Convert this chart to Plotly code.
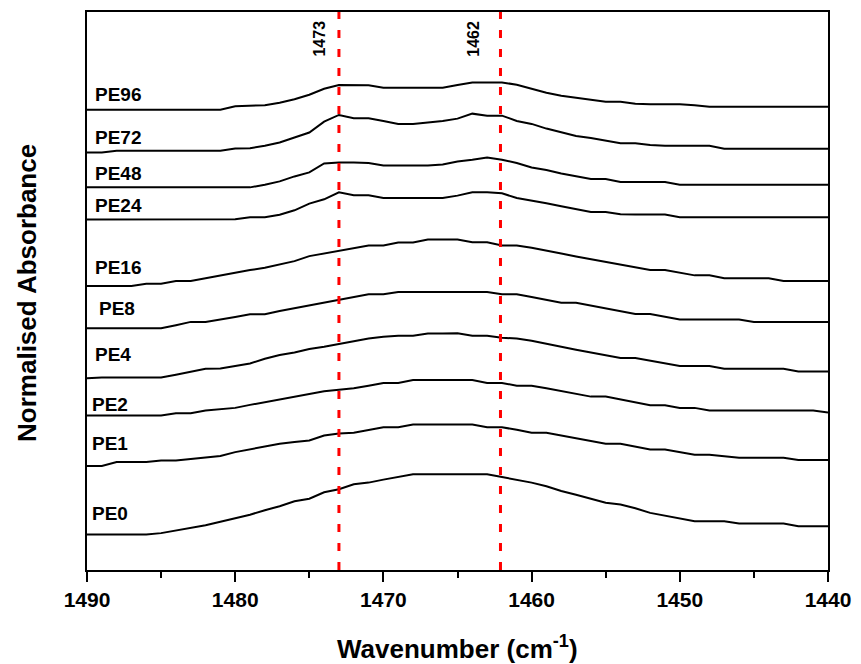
import plotly.graph_objects as go

# Wavenumber grid (cm^-1), 1490 -> 1440
wavenumber = [1490 - i for i in range(51)]

sample_names = ["PE96", "PE72", "PE48", "PE24", "PE16", "PE8", "PE4", "PE2", "PE1", "PE0"]

# Stacked (offset) normalised absorbance
pe96 = [4.62]*10 + [4.655, 4.66, 4.665, 4.69, 4.725, 4.77, 4.83, 4.867, 4.867, 4.865,
        4.84, 4.84, 4.84, 4.84, 4.84, 4.867, 4.893, 4.893, 4.893, 4.87,
        4.83, 4.79, 4.76, 4.74, 4.72, 4.70, 4.70, 4.68, 4.673, 4.673,
        4.673, 4.665, 4.65] + [4.65]*8
pe72 = [4.19, 4.19] + [4.207]*8 + [4.23, 4.233, 4.257, 4.29, 4.34, 4.39, 4.50, 4.567, 4.533, 4.533,
        4.507, 4.477, 4.477, 4.49, 4.507, 4.53, 4.58, 4.56, 4.56, 4.507,
        4.477, 4.43, 4.39, 4.355, 4.335, 4.31, 4.283, 4.283, 4.265] + [4.257]*4 + [4.227]*8
pe48 = [3.84]*12 + [3.867, 3.90, 3.95, 3.99, 4.08, 4.09, 4.09, 4.085, 4.06, 4.06,
        4.06, 4.06, 4.07, 4.10, 4.117, 4.14, 4.117, 4.085, 4.04, 4.015,
        3.98, 3.95, 3.923, 3.923, 3.893, 3.893, 3.893, 3.893] + [3.867]*11
pe24 = [3.517]*10 + [3.52, 3.54, 3.54, 3.565, 3.61, 3.677, 3.72, 3.79, 3.76, 3.76,
        3.733, 3.733, 3.733, 3.733, 3.733, 3.757, 3.79, 3.79, 3.78, 3.733,
        3.71, 3.68, 3.65, 3.623, 3.593, 3.593, 3.57, 3.567, 3.567, 3.567] + [3.54]*11
pe16 = [2.85]*4 + [2.873, 2.873, 2.90, 2.90, 2.927, 2.957, 2.983, 3.01, 3.033, 3.067,
        3.10, 3.15, 3.177, 3.207, 3.233, 3.257, 3.257, 3.287, 3.287, 3.317,
        3.317, 3.317, 3.29, 3.29, 3.257, 3.257, 3.233, 3.207, 3.177, 3.147,
        3.12, 3.093, 3.067, 3.04, 3.01, 3.01, 2.983, 2.957, 2.957, 2.927,
        2.927, 2.927, 2.927, 2.90, 2.90, 2.90] + [2.90]
pe8 = [2.427]*6 + [2.457, 2.49, 2.49, 2.513, 2.54, 2.567, 2.567, 2.60, 2.627, 2.657,
       2.683, 2.71, 2.74, 2.767, 2.767] + [2.79]*7 + [2.767, 2.767, 2.74, 2.71, 2.683,
       2.683, 2.653, 2.627, 2.60, 2.57, 2.57, 2.54, 2.513, 2.513, 2.513,
       2.513, 2.513] + [2.49]*6
pe4 = [1.925] + [1.933]*5 + [1.96, 1.99, 2.02, 2.023, 2.05, 2.073, 2.12, 2.157, 2.183, 2.217,
      2.24, 2.27, 2.30, 2.323, 2.34, 2.35, 2.35, 2.373, 2.373, 2.375,
      2.35, 2.35, 2.33, 2.323, 2.30, 2.273, 2.24, 2.21, 2.18, 2.153,
      2.127, 2.127, 2.10, 2.073, 2.047, 2.047, 2.047] + [2.02]*5 + [1.993]*3
pe2 = [1.55]*6 + [1.573, 1.573, 1.60, 1.615, 1.627, 1.657, 1.683, 1.71, 1.74, 1.767,
      1.793, 1.81, 1.823, 1.85, 1.877, 1.877, 1.907] + [1.907]*4 + [1.877, 1.877, 1.85,
      1.85, 1.823, 1.793, 1.767, 1.74, 1.74, 1.71, 1.68, 1.653, 1.653, 1.627,
      1.627] + [1.60]*8 + [1.58]
pe1 = [1.043, 1.043] + [1.083]*3 + [1.10, 1.10, 1.115, 1.127, 1.145, 1.183, 1.21, 1.24, 1.267,
      1.285, 1.30, 1.35, 1.37, 1.377, 1.407, 1.433, 1.433, 1.46] + [1.46]*4 + [1.433,
      1.433, 1.407, 1.377, 1.377, 1.35, 1.323, 1.293, 1.267, 1.267, 1.24, 1.21,
      1.21, 1.183, 1.157, 1.157, 1.145] + [1.127]*4 + [1.103]*3
pe0 = [0.357]*5 + [0.37, 0.395, 0.42, 0.45, 0.485, 0.52, 0.555, 0.60, 0.64, 0.69,
      0.715, 0.78, 0.81, 0.86, 0.877, 0.907, 0.933, 0.96] + [0.96]*5 + [0.933, 0.907,
      0.877, 0.84, 0.793, 0.755, 0.713, 0.675, 0.657, 0.62, 0.573, 0.543, 0.517,
      0.49, 0.49, 0.49] + [0.467]*4 + [0.44]*3

series = [pe96, pe72, pe48, pe24, pe16, pe8, pe4, pe2, pe1, pe0]

# label anchor values (left edge wavenumber, absorbance level)
label_x = [1489.6, 1489.6, 1489.6, 1489.6, 1489.6, 1489.3, 1489.6, 1489.8, 1489.8, 1489.8]
label_y = [4.77, 4.34, 3.98, 3.66, 3.04, 2.62, 2.16, 1.66, 1.27, 0.57]

peak_positions = [1473.0, 1462.1]
peak_labels = ["1473", "1462"]
peak_label_x = [1474.3, 1463.9]

x_ticks = [1490, 1480, 1470, 1460, 1450, 1440]

FONT = "Liberation Sans"

fig = go.Figure()
for name, ys in zip(sample_names, series):
    fig.add_trace(go.Scatter(x=wavenumber, y=ys, mode="lines", name=name,
                             line=dict(color="black", width=2), showlegend=False))

annotations = []
for name, lx, ly in zip(sample_names, label_x, label_y):
    annotations.append(dict(x=lx, y=ly, xref="x", yref="y", text=name, showarrow=False,
                            xanchor="left", yanchor="middle",
                            font=dict(family=FONT, size=19, color="black", weight="bold")))
for lab, lx in zip(peak_labels, peak_label_x):
    annotations.append(dict(x=lx, y=5.33, xref="x", yref="y", text=lab, showarrow=False,
                            textangle=-90, xanchor="center", yanchor="middle",
                            font=dict(family=FONT, size=16, color="black", weight="bold")))
annotations.append(dict(x=0.5, y=-0.139, xref="paper", yref="paper",
                        text="Wavenumber (cm<sup>-1</sup>)", showarrow=False,
                        xanchor="center", yanchor="middle",
                        font=dict(family=FONT, size=26, color="black", weight="bold")))
annotations.append(dict(x=-0.080, y=0.496, xref="paper", yref="paper",
                        text="Normalised Absorbance", showarrow=False, textangle=-90,
                        xanchor="center", yanchor="middle",
                        font=dict(family=FONT, size=26, color="black", weight="bold")))

shapes = []
for p in peak_positions:
    shapes.append(dict(type="line", xref="x", yref="paper", x0=p, x1=p, y0=0, y1=1,
                       line=dict(color="#ff0000", width=3, dash="8px,11px")))

fig.update_layout(
    width=861, height=664,
    margin=dict(l=87, r=27, t=10, b=94),
    paper_bgcolor="white", plot_bgcolor="white",
    annotations=annotations, shapes=shapes,
    xaxis=dict(range=[1490, 1440], tickvals=x_ticks, ticktext=[str(v) for v in x_ticks],
               showgrid=False, zeroline=False, showline=True, mirror=True,
               linecolor="black", linewidth=2, ticks="outside", ticklen=10, tickwidth=2,
               tickcolor="black", ticklabeloverflow="allow",
               minor=dict(dtick=5, tick0=1440, ticks="outside", ticklen=6, tickwidth=2,
                          tickcolor="black", showgrid=False),
               tickfont=dict(family=FONT, size=21, color="black", weight="bold")),
    yaxis=dict(range=[0, 5.6], showgrid=False, zeroline=False, showline=True, mirror=True,
               linecolor="black", linewidth=2, ticks="", showticklabels=False),
)

fig.write_html("out.html")
